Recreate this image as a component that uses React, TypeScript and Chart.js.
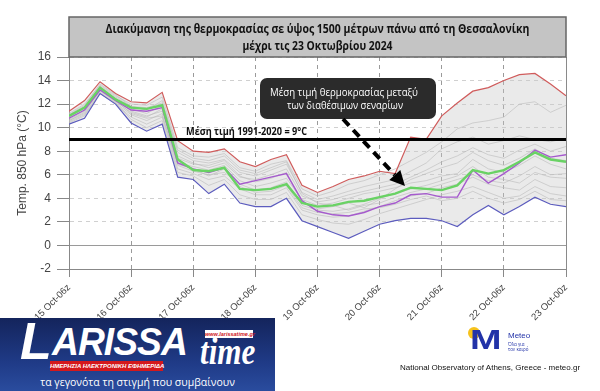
import React, { useEffect, useRef } from "react";
import { Chart, registerables } from "chart.js";
Chart.register(...registerables);

const X_LABELS = ["15 Oct-06z", "16 Oct-06z", "17 Oct-06z", "18 Oct-06z", "19 Oct-06z", "20 Oct-06z", "21 Oct-06z", "22 Oct-06z", "23 Oct-00z"];
const Y_TICKS_MIN = -2;
const Y_TICKS_MAX = 16;
const CLIMATE_MEAN = 9;

const TITLE_1 = "Διακύμανση της θερμοκρασίας σε ύψος 1500 μέτρων πάνω από τη Θεσσαλονίκη";
const TITLE_2 = "μέχρι τις 23 Οκτωβρίου 2024";
const CLIMATE_LABEL = "Μέση τιμή 1991-2020 = 9°C";
const NOTE_1 = "Μέση τιμή θερμοκρασίας μεταξύ";
const NOTE_2 = "των διαθέσιμων σεναρίων";
const Y_TITLE = "Temp. 850 hPa (°C)";

const MAX_T = [11.4, 12.3, 13.9, 12.9, 12.2, 12.1, 13.0, 8.9, 8.0, 7.9, 8.2, 7.1, 6.7, 7.3, 7.7, 5.1, 4.5, 5.0, 5.6, 5.9, 6.3, 6.1, 9.2, 9.0, 11.0, 12.1, 13.1, 13.4, 14.0, 14.5, 14.6, 13.7, 12.7];
const MIN_T = [10.3, 10.8, 12.9, 12.0, 10.4, 9.7, 10.3, 5.8, 5.6, 4.4, 5.2, 3.6, 3.3, 3.3, 4.0, 2.1, 1.6, 1.1, 0.6, 1.2, 1.8, 2.1, 2.3, 2.3, 2.1, 1.6, 2.6, 3.4, 2.6, 3.3, 4.1, 3.5, 3.3];
const MEAN_T = [11.0, 11.7, 13.4, 12.4, 11.7, 11.6, 11.9, 7.3, 6.4, 6.3, 6.6, 4.8, 4.7, 4.8, 5.2, 3.6, 3.3, 3.4, 3.7, 3.8, 4.1, 4.4, 4.9, 4.8, 4.7, 5.1, 6.4, 6.1, 6.4, 7.1, 7.9, 7.3, 7.1];
const CONTROL_T = [10.8, 11.5, 13.2, 12.3, 11.5, 11.4, 11.7, 7.0, 6.5, 6.2, 6.6, 5.2, 5.5, 5.8, 6.1, 3.8, 2.9, 2.6, 2.5, 2.8, 3.3, 3.6, 4.3, 4.4, 4.1, 4.1, 6.4, 5.3, 6.1, 7.0, 8.1, 7.5, 7.7];

const MEMBER_01 = [11.2, 12.0, 13.6, 12.7, 12.0, 11.9, 12.6, 8.3, 7.6, 7.5, 7.8, 6.6, 6.3, 6.9, 7.2, 4.8, 4.2, 4.6, 5.2, 5.5, 6.0, 6.5, 7.2, 7.9, 8.8, 9.9, 10.4, 10.6, 10.9, 12.0, 12.2, 11.3, 11.9];
const MEMBER_02 = [11.0, 11.8, 13.5, 12.6, 11.8, 11.5, 12.3, 7.9, 7.2, 7.0, 7.3, 6.2, 5.9, 6.4, 6.9, 4.5, 3.9, 4.2, 4.6, 5.0, 5.3, 5.6, 6.3, 7.0, 8.2, 8.8, 9.2, 8.6, 8.9, 9.3, 9.0, 8.8, 9.1];
const MEMBER_03 = [10.9, 11.6, 13.3, 12.4, 11.6, 11.2, 11.9, 7.6, 7.0, 6.6, 7.0, 5.8, 5.6, 6.0, 6.5, 4.2, 3.7, 3.9, 4.3, 4.6, 4.9, 5.2, 5.8, 6.4, 7.1, 7.6, 8.3, 7.7, 7.4, 8.1, 8.6, 8.0, 8.4];
const MEMBER_04 = [10.7, 11.4, 13.1, 12.2, 11.3, 10.9, 11.6, 7.0, 6.7, 6.4, 6.8, 5.5, 5.0, 5.3, 5.7, 3.9, 3.4, 3.6, 4.0, 4.4, 4.6, 4.9, 5.3, 5.5, 5.9, 6.1, 7.3, 6.5, 6.2, 6.8, 7.6, 6.9, 6.5];
const MEMBER_05 = [10.6, 11.2, 13.0, 12.1, 11.1, 10.6, 11.2, 6.8, 6.3, 6.0, 6.2, 5.2, 4.7, 4.9, 5.4, 3.4, 3.0, 2.9, 3.1, 3.5, 4.0, 4.4, 4.8, 5.1, 5.5, 5.9, 6.7, 5.8, 5.6, 5.3, 6.2, 5.8, 5.7];
const MEMBER_06 = [10.5, 11.1, 12.9, 12.0, 10.9, 10.3, 10.9, 6.5, 6.1, 5.6, 5.9, 4.8, 4.3, 4.3, 4.9, 3.0, 2.6, 2.4, 2.5, 2.9, 3.3, 3.8, 4.2, 4.4, 4.9, 5.2, 5.8, 5.2, 4.9, 4.7, 5.6, 5.0, 4.9];
const MEMBER_07 = [10.4, 11.0, 12.9, 12.1, 10.7, 10.0, 10.6, 6.2, 5.9, 5.1, 5.6, 4.3, 3.9, 3.9, 4.5, 2.6, 2.2, 1.9, 1.8, 2.2, 2.7, 3.1, 3.5, 3.9, 4.3, 4.6, 5.0, 4.5, 4.0, 4.2, 5.0, 4.4, 4.2];
const MEMBER_08 = [10.9, 11.7, 13.4, 12.5, 11.4, 11.0, 11.4, 7.4, 6.9, 6.8, 7.2, 5.9, 5.4, 5.7, 6.2, 3.7, 3.1, 3.3, 3.6, 3.2, 3.9, 4.8, 5.6, 6.1, 6.6, 7.0, 7.9, 7.2, 6.8, 7.4, 8.2, 7.4, 7.2];
const MEMBER_09 = [11.1, 11.9, 13.7, 12.8, 11.8, 11.7, 12.1, 8.1, 7.4, 7.2, 7.6, 6.4, 6.1, 6.6, 7.1, 4.4, 3.6, 3.4, 3.0, 3.4, 3.6, 4.1, 4.5, 4.8, 5.2, 5.6, 6.0, 5.5, 5.3, 5.9, 6.7, 6.0, 6.1];
const MEMBER_10 = [10.6, 11.3, 13.2, 12.3, 11.2, 10.8, 11.0, 6.9, 6.5, 5.9, 6.5, 5.0, 4.5, 4.6, 5.1, 3.2, 2.8, 2.7, 2.8, 3.1, 3.2, 3.5, 3.9, 4.2, 3.8, 4.0, 4.6, 4.0, 3.6, 3.9, 4.6, 3.9, 3.8];

const MEMBERS = [MEMBER_01, MEMBER_02, MEMBER_03, MEMBER_04, MEMBER_05, MEMBER_06, MEMBER_07, MEMBER_08, MEMBER_09, MEMBER_10];

const pts = (arr: number[]) => arr.map((v, i) => ({ x: i, y: v }));

const GREEK_FONT = '"Open Sans", "Noto Sans", "DejaVu Sans", sans-serif';

function fitText(ctx: CanvasRenderingContext2D, text: string, cx: number, cy: number, width: number) {
  const w = ctx.measureText(text).width;
  ctx.save();
  ctx.translate(cx, cy);
  ctx.scale(width / w, 1);
  ctx.textAlign = "center";
  ctx.textBaseline = "middle";
  ctx.fillText(text, 0, 0);
  ctx.restore();
}

const overlayPlugin = {
  id: "overlay",
  afterDraw(chart: any) {
    const { ctx, chartArea: ca, scales } = chart;
    const y = scales.y;
    ctx.save();
    const yc = y.getPixelForValue(CLIMATE_MEAN);
    ctx.strokeStyle = "#000";
    ctx.lineWidth = 3;
    ctx.beginPath();
    ctx.moveTo(ca.left, yc);
    ctx.lineTo(ca.right, yc);
    ctx.stroke();
    ctx.fillStyle = "#111";
    ctx.font = `bold 11px ${GREEK_FONT}`;
    fitText(ctx, CLIMATE_LABEL, 246.5, yc - 8, 121);

    ctx.fillStyle = "#c4c4c4";
    ctx.fillRect(ca.left, 17, ca.right - ca.left, ca.top - 17);
    ctx.strokeStyle = "#666";
    ctx.lineWidth = 1.5;
    ctx.strokeRect(ca.left, 17, ca.right - ca.left, ca.top - 17);
    ctx.fillStyle = "#111";
    ctx.font = `bold 12px ${GREEK_FONT}`;
    const cx = (ca.left + ca.right) / 2;
    fitText(ctx, TITLE_1, cx, 30, 424);
    fitText(ctx, TITLE_2, cx, 47, 150);

    ctx.fillStyle = "#2b2b2b";
    ctx.beginPath();
    (ctx as any).roundRect(260, 78, 176, 41, 7);
    ctx.fill();
    ctx.fillStyle = "#fff";
    ctx.font = `11px ${GREEK_FONT}`;
    fitText(ctx, NOTE_1, 344, 93, 148);
    fitText(ctx, NOTE_2, 345, 106, 116);

    const sx = 343, sy = 119, tx = 405, ty = 186;
    const dx = tx - sx, dy = ty - sy;
    const len = Math.hypot(dx, dy);
    const ux = dx / len, uy = dy / len;
    const hl = 15, hw = 7.5;
    ctx.strokeStyle = "#000";
    ctx.lineWidth = 4;
    ctx.setLineDash([9, 6]);
    ctx.beginPath();
    ctx.moveTo(sx, sy);
    ctx.lineTo(tx - ux * hl, ty - uy * hl);
    ctx.stroke();
    ctx.setLineDash([]);
    ctx.fillStyle = "#000";
    ctx.beginPath();
    ctx.moveTo(tx, ty);
    ctx.lineTo(tx - ux * hl - uy * hw, ty - uy * hl + ux * hw);
    ctx.lineTo(tx - ux * hl + uy * hw, ty - uy * hl - ux * hw);
    ctx.closePath();
    ctx.fill();
    ctx.restore();
  },
};

export default function App() {
  const ref = useRef<HTMLCanvasElement | null>(null);
  useEffect(() => {
    if (!ref.current) return;
    const memberSets = MEMBERS.map((m) => ({
      data: pts(m),
      borderColor: "rgba(185,185,185,0.85)",
      borderWidth: 0.7,
      pointRadius: 0,
      fill: false,
      order: 10,
    }));
    const chart = new Chart(ref.current, {
      type: "line",
      data: {
        datasets: [
          { data: pts(MAX_T), borderColor: "rgb(208,92,92)", borderWidth: 1.2, pointRadius: 0, fill: false, order: 2 },
          { data: pts(MIN_T), borderColor: "rgb(92,92,190)", borderWidth: 1.2, pointRadius: 0, fill: "-1", backgroundColor: "rgba(200,200,200,0.38)", order: 2 },
          { data: pts(CONTROL_T), borderColor: "rgb(165,90,205)", borderWidth: 1.4, pointRadius: 0, fill: false, order: 1 },
          { data: pts(MEAN_T), borderColor: "rgb(105,210,100)", borderWidth: 2.4, pointRadius: 0, fill: false, order: 0 },
          ...memberSets,
        ] as any,
      },
      options: {
        responsive: false,
        animation: false,
        devicePixelRatio: 1,
        layout: { padding: { left: 0, right: 34, top: 57, bottom: 0 } },
        plugins: {
          legend: { display: false },
          tooltip: { enabled: false },
          filler: { drawTime: "beforeDatasetsDraw" },
        } as any,
        elements: { line: { tension: 0 } },
        scales: {
          x: {
            type: "linear",
            min: 0,
            max: 32,
            ticks: {
              stepSize: 4,
              autoSkip: false,
              maxRotation: 45,
              minRotation: 45,
              padding: 5,
              color: "#444",
              font: { size: 9.5, family: '"Liberation Sans", Arial, sans-serif' },
              callback: (v: any) => X_LABELS[Math.round(Number(v) / 4)] ?? "",
            },
            grid: {
              color: (c: any) => (c.tick && c.tick.value === 32 ? "#8a8a8a" : "#9a9a9a"),
              lineWidth: 1,
              tickLength: 8,
              tickColor: "#888",
            },
            border: {
              color: "#888",
              dash: (c: any) => (!c.tick || c.tick.value === 0 || c.tick.value === 32 ? [] : [4, 4]),
            },
            afterFit: (s: any) => {
              s.height = 122;
            },
          },
          y: {
            min: Y_TICKS_MIN,
            max: Y_TICKS_MAX,
            ticks: {
              stepSize: 2,
              padding: 6,
              color: "#444",
              font: { size: 12, family: '"Liberation Sans", Arial, sans-serif' },
            },
            grid: {
              color: (c: any) => (c.tick && c.tick.value === 0 ? "#9a9a9a" : "#d0d0d0"),
              tickLength: 12,
              tickColor: "#888",
            },
            border: {
              color: "#888",
              dash: (c: any) => (!c.tick || c.tick.value === 0 || c.tick.value === -2 ? [] : [4, 4]),
            },
            title: {
              display: true,
              text: Y_TITLE,
              color: "#444",
              font: { size: 12, family: '"Liberation Sans", Arial, sans-serif' },
              padding: { top: 15, bottom: 0 },
            },
            afterFit: (s: any) => {
              s.width = 69;
            },
          },
        } as any,
      },
      plugins: [overlayPlugin],
    });
    return () => chart.destroy();
  }, []);

  return (
    <div style={{ position: "absolute", left: 0, top: 0, width: 600, height: 391, background: "#fff", overflow: "hidden" }}>
      <canvas ref={ref} width={600} height={391} style={{ position: "absolute", left: 0, top: 0 }} />
      <div
        style={{
          position: "absolute",
          left: 0,
          top: 318,
          width: 275,
          height: 73,
          background: "linear-gradient(180deg,#14245c 0%,#1f3a86 60%,#2a4c9e 100%)",
          overflow: "hidden",
          fontFamily: '"Liberation Sans", Arial, sans-serif',
          color: "#fff",
        }}
      >
        <div style={{ position: "absolute", left: 20, top: -3, fontSize: 52, fontWeight: 900, fontStyle: "italic", lineHeight: "52px" }}>L</div>
        <div style={{ position: "absolute", left: 52, top: 5, fontSize: 38, fontWeight: 900, fontStyle: "italic", lineHeight: "38px", letterSpacing: -1, transform: "scaleX(0.98)", transformOrigin: "left top", whiteSpace: "nowrap" }}>ARISSA</div>
        <div style={{ position: "absolute", left: 200, top: 14, fontSize: 38, fontStyle: "italic", fontWeight: 700, lineHeight: "38px", fontFamily: '"Liberation Serif", serif', transform: "scaleX(0.82)", transformOrigin: "left top", whiteSpace: "nowrap" }}>time</div>
        <div style={{ position: "absolute", left: 205, top: 12, width: 48, height: 8, background: "#fff", color: "#d0161c", fontSize: 5.5, fontWeight: 700, fontStyle: "italic", lineHeight: "8px", textAlign: "center", whiteSpace: "nowrap" }}>www.larissatime.gr</div>
        <div style={{ position: "absolute", left: 50, top: 43, width: 113, height: 10, background: "#d4181c", fontSize: 6, fontWeight: 700, fontStyle: "italic", lineHeight: "10px", textAlign: "center", whiteSpace: "nowrap" }}>ΗΜΕΡΗΣΙΑ ΗΛΕΚΤΡΟΝΙΚΗ ΕΦΗΜΕΡΙΔΑ</div>
        <div style={{ position: "absolute", left: 0, top: 57, width: 275, textAlign: "center", fontSize: 10.5, lineHeight: "14px", fontFamily: GREEK_FONT, whiteSpace: "nowrap" }}>τα γεγονότα τη στιγμή που συμβαίνουν</div>
      </div>
      <div style={{ position: "absolute", left: 468, top: 327, width: 12, height: 12, borderRadius: 6, background: "#f6c21c" }} />
      <div style={{ position: "absolute", left: 470, top: 326, fontSize: 28, fontWeight: 900, color: "#2233a8", lineHeight: "28px", transform: "scaleX(1.35)", transformOrigin: "left top", fontFamily: '"Liberation Sans", Arial, sans-serif' }}>M</div>
      <div style={{ position: "absolute", left: 508, top: 331, fontSize: 8, color: "#2233a8", lineHeight: "9px", fontFamily: '"Liberation Sans", Arial, sans-serif' }}>Meteo</div>
      <div style={{ position: "absolute", left: 508, top: 342, fontSize: 4.5, color: "#2233a8", lineHeight: "5px", fontFamily: GREEK_FONT }}>Όλα για<br />τον καιρό</div>
      <div style={{ position: "absolute", left: 400, top: 363, fontSize: 8, color: "#111", lineHeight: "10px", whiteSpace: "nowrap", fontFamily: '"Liberation Sans", Arial, sans-serif' }}>National Observatory of Athens, Greece - meteo.gr</div>
    </div>
  );
}
